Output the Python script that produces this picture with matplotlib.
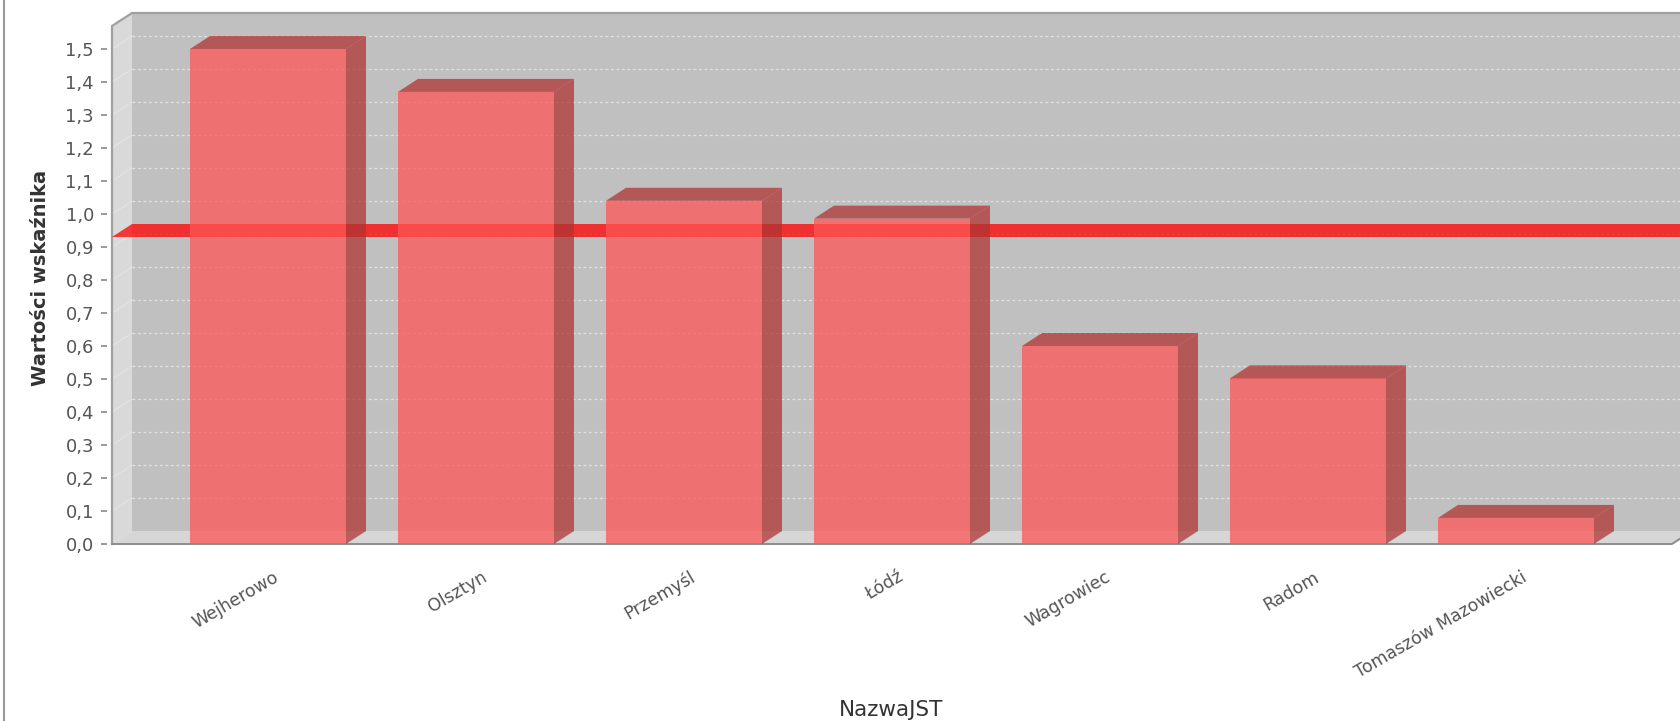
import numpy as np
import matplotlib.pyplot as plt
from matplotlib.patches import Polygon
from matplotlib.lines import Line2D
from matplotlib.transforms import ScaledTranslation

# data
names = ['Wejherowo', 'Olsztyn', 'Przemyśl', 'Łódź', 'Wagrowiec', 'Radom', 'Tomaszów Mazowiecki']
values = [1.50, 1.37, 1.04, 0.986, 0.60, 0.502, 0.079]
marker_value = 0.93
yticks = np.arange(0, 1.51, 0.1)

W, H = 1680, 721
fig = plt.figure(figsize=(W/100, H/100), dpi=100)
fig.patch.set_facecolor('white')

# front plane of the 3d plot area, in pixels
left_px, right_px, bottom_px, top_px = 112, 1672, 544, 13
ax = fig.add_axes([left_px/W, 1-bottom_px/H, (right_px-left_px)/W, (bottom_px-top_px)/H])

xl, xr = -0.75, 6.75
px_per_x = (right_px-left_px)/(xr-xl)
px_per_y = 330.0
ymax = (bottom_px-top_px)/px_per_y
ax.set_xlim(xl, xr)
ax.set_ylim(0, ymax)
ax.patch.set_visible(False)
for s in ax.spines.values():
    s.set_visible(False)

# depth offsets in data units
DX = 20/px_per_x
DY = 13/px_per_y

def poly(pts, **kw):
    p = Polygon(pts, closed=True, clip_on=False, **kw)
    ax.add_patch(p)
    return p

# walls
poly([(xl+DX, DY), (xr+DX+1, DY), (xr+DX+1, ymax), (xl+DX, ymax)], facecolor='#c0c0c0', edgecolor='none', zorder=0)
poly([(xl, 0), (xl+DX, DY), (xl+DX, ymax), (xl, ymax-DY)], facecolor='#d9d9d9', edgecolor='none', zorder=0.5)
poly([(xl, 0), (xr, 0), (xr+DX, DY), (xl+DX, DY)], facecolor='#d6d6d6', edgecolor='none', zorder=0.5)

# gridlines on the back wall
for t in yticks[1:]:
    ax.plot([xl+DX, xr+DX+1], [t+DY, t+DY], color='#e2e2e2', lw=0.9, ls=(0, (2.2, 2.2)), clip_on=False, zorder=1)
    ax.plot([xl, xl+DX], [t, t+DY], color='#e6e6e6', lw=0.6, clip_on=False, zorder=1)

# outline
edge = '#a0a0a0'
ax.plot([xl, xl, xl+DX, xr+DX+1], [0, ymax-DY, ymax, ymax], color=edge, lw=1.6, clip_on=False, zorder=2)
ax.plot([xl, xr, xr+DX], [0, 0, DY], color='#8c8c8c', lw=1.4, clip_on=False, zorder=2)

# marker band (behind the bars)
m = marker_value
poly([(xl, m), (xr+DX+1, m), (xr+DX+1, m+DY), (xl+DX, m+DY)], facecolor='#ff0000', edgecolor='none', alpha=0.75, zorder=3)

# 3d bars
bw = 156/px_per_x
front = '#ff5555'
dark = '#b03434'
for i, v in enumerate(values):
    x0, x1 = i-bw/2, i+bw/2
    poly([(x0, 0), (x1, 0), (x1, v), (x0, v)], facecolor=front, edgecolor='none', alpha=0.75, zorder=4)
    poly([(x1, 0), (x1+DX, DY), (x1+DX, v+DY), (x1, v)], facecolor=dark, edgecolor='none', alpha=0.75, zorder=4)
    poly([(x0, v), (x1, v), (x1+DX, v+DY), (x0+DX, v+DY)], facecolor=dark, edgecolor='none', alpha=0.75, zorder=4)

# y axis ticks (marks sit a little away from the wall)
ax.set_yticks(yticks)
ax.set_yticklabels([f'{t:.1f}'.replace('.', ',') for t in yticks])
ax.tick_params(axis='y', length=0, pad=13, labelsize=13, labelcolor='#555555')
ax.set_xticks([])
tick_off = ScaledTranslation(-8.5/100, 0, fig.dpi_scale_trans)
ax.plot([xl]*len(yticks), yticks, ls='none', marker='_', ms=5, mew=1.2, color='#888888',
        transform=ax.transData + tick_off, clip_on=False)

# category labels
off = ScaledTranslation(5/100, -24/100, fig.dpi_scale_trans)
for i, n in enumerate(names):
    ax.text(i, 0, n, transform=ax.transData + off, rotation=30, rotation_mode='anchor',
            ha='right', va='top', fontsize=12.5, color='#555555')

fig.text(41/W, 1-278/H, 'Wartości wskaźnika', rotation=90, ha='center', va='center',
         fontsize=14, fontweight='bold', color='#333333')
fig.text(891/W, 1-710/H, 'NazwaJST', ha='center', va='center', fontsize=15.5, color='#333333')

# panel border on the left
fig.add_artist(Line2D([4/W, 4/W], [0, 1], transform=fig.transFigure, color='#999999', lw=1.5))

fig.savefig('out.png', dpi=100)
